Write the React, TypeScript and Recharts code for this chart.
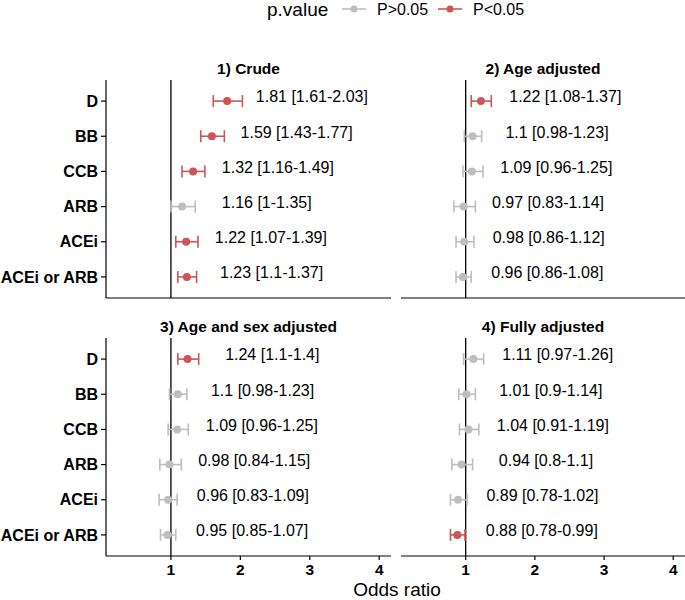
import React from 'react';
import { ScatterChart, Scatter, XAxis, YAxis, ErrorBar, ReferenceLine } from 'recharts';

// categories, top to bottom
const drugs = ['D', 'BB', 'CCB', 'ARB', 'ACEi', 'ACEi or ARB'];
const panelTitles = ['1) Crude', '2) Age adjusted', '3) Age and sex adjusted', '4) Fully adjusted'];
const xTicks = [1, 2, 3, 4];

const crudeOR = [1.81, 1.59, 1.32, 1.16, 1.22, 1.23];
const crudeLow = [1.61, 1.43, 1.16, 1, 1.07, 1.1];
const crudeHigh = [2.03, 1.77, 1.49, 1.35, 1.39, 1.37];

const ageOR = [1.22, 1.1, 1.09, 0.97, 0.98, 0.96];
const ageLow = [1.08, 0.98, 0.96, 0.83, 0.86, 0.86];
const ageHigh = [1.37, 1.23, 1.25, 1.14, 1.12, 1.08];

const ageSexOR = [1.24, 1.1, 1.09, 0.98, 0.96, 0.95];
const ageSexLow = [1.1, 0.98, 0.96, 0.84, 0.83, 0.85];
const ageSexHigh = [1.4, 1.23, 1.25, 1.15, 1.09, 1.07];

const fullOR = [1.11, 1.01, 1.04, 0.94, 0.89, 0.88];
const fullLow = [0.97, 0.9, 0.91, 0.8, 0.78, 0.78];
const fullHigh = [1.26, 1.14, 1.19, 1.1, 1.02, 0.99];

const RED = '#CD5555';
const GREY = '#BEBEBE';
const FONT = '"Liberation Sans", Arial, Helvetica, sans-serif';
const X_DOMAIN: [number, number] = [0.065, 4.17];
const LABEL_SHIFT = 1.22; // text sits to the right of the estimate
const LABEL_LIFT = 0.12;

const PLOT_H = 217;

interface PanelProps {
  title: string;
  or: number[];
  low: number[];
  high: number[];
  left: number;
  top: number;
  showY: boolean;
  showX: boolean;
}

function Panel({ title, or, low, high, left, top, showY, showX }: PanelProps) {
  const rows = drugs.map((d, i) => ({
    drug: d,
    x: or[i],
    y: i + 1,
    err: [or[i] - low[i], high[i] - or[i]],
    sig: low[i] > 1 || high[i] < 1,
    text: `${or[i]} [${low[i]}-${high[i]}]`,
  }));
  const greyRows = rows.filter((r) => !r.sig);
  const redRows = rows.filter((r) => r.sig);
  const labelRows = rows.map((r) => ({ x: r.x + LABEL_SHIFT, y: r.y - LABEL_LIFT, text: r.text }));

  const yAxisW = showY ? 106 : 0;
  const width = showY ? 392 : 284;
  const xAxisH = showX ? 32 : 1;
  const height = PLOT_H + 1 + xAxisH;
  const plotCenter = yAxisW + (width - yAxisW - (showY ? 1 : 0)) / 2;

  const dot = (color: string) => (p: any) => <circle cx={p.cx} cy={p.cy} r={4} fill={color} />;

  return (
    <div style={{ position: 'absolute', left, top: top - 24 }}>
      <div
        style={{
          position: 'absolute',
          left: plotCenter - 150,
          width: 300,
          top: 4,
          textAlign: 'center',
          fontWeight: 'bold',
          fontSize: 15.5,
          lineHeight: '18px',
          color: '#000',
        }}
      >
        {title}
      </div>
      <div style={{ position: 'absolute', left: 0, top: 24 }}>
        <ScatterChart width={width} height={height} margin={{ top: 0, right: showY ? 1 : 0, bottom: 0, left: 0 }}>
          <XAxis
            type="number"
            dataKey="x"
            domain={X_DOMAIN}
            ticks={xTicks}
            allowDataOverflow
            height={xAxisH}
            axisLine={{ stroke: '#000', strokeWidth: 1.2 }}
            tick={showX ? { fill: '#000', fontSize: 15.5, fontWeight: 'bold' } : false}
            tickLine={showX ? { stroke: '#000', strokeWidth: 1.2 } : false}
            tickSize={4}
            tickMargin={4}
          />
          <YAxis
            type="number"
            dataKey="y"
            domain={[0.4, 6.6]}
            ticks={[1, 2, 3, 4, 5, 6]}
            reversed
            allowDataOverflow
            hide={!showY}
            width={yAxisW}
            tickFormatter={(v: number) => drugs[v - 1]}
            axisLine={{ stroke: '#000', strokeWidth: 1.2 }}
            tick={{ fill: '#000', fontSize: 16, fontWeight: 'bold' }}
            tickLine={{ stroke: '#000', strokeWidth: 1.2 }}
            tickSize={5}
            tickMargin={3}
            interval={0}
          />
          <ReferenceLine x={1} stroke="#000" strokeWidth={1.3} />
          <Scatter data={greyRows} isAnimationActive={false} shape={dot(GREY)}>
            <ErrorBar dataKey="err" direction="x" width={6} stroke={GREY} strokeWidth={1.6} />
          </Scatter>
          <Scatter data={redRows} isAnimationActive={false} shape={dot(RED)}>
            <ErrorBar dataKey="err" direction="x" width={6} stroke={RED} strokeWidth={1.6} />
          </Scatter>
          <Scatter
            data={labelRows}
            isAnimationActive={false}
            shape={(p: any) => (
              <text
                x={p.cx}
                y={p.cy}
                textAnchor="middle"
                dominantBaseline="central"
                fontSize={16}
                fill="#000"
              >
                {p.payload.text}
              </text>
            )}
          />
        </ScatterChart>
      </div>
    </div>
  );
}

function LegendMarker({ color, left }: { color: string; left: number }) {
  return (
    <svg style={{ position: 'absolute', left, top: 1 }} width={24} height={16}>
      <line x1={0} x2={24} y1={8} y2={8} stroke={color} strokeWidth={1.6} />
      <circle cx={12} cy={8} r={3.5} fill={color} />
    </svg>
  );
}

export default function App() {
  return (
    <div
      style={{
        position: 'absolute',
        left: 0,
        top: 0,
        width: 685,
        height: 600,
        background: '#fff',
        fontFamily: FONT,
        overflow: 'hidden',
      }}
    >
      {/* legend */}
      <div style={{ position: 'absolute', left: 267, top: 0, fontSize: 19, lineHeight: '20px', color: '#000' }}>
        p.value
      </div>
      <LegendMarker color={GREY} left={342} />
      <div style={{ position: 'absolute', left: 377, top: 1, fontSize: 16, lineHeight: '17px', color: '#000' }}>
        P&gt;0.05
      </div>
      <LegendMarker color={RED} left={438} />
      <div style={{ position: 'absolute', left: 473, top: 1, fontSize: 16, lineHeight: '17px', color: '#000' }}>
        P&lt;0.05
      </div>

      <Panel title={panelTitles[0]} or={crudeOR} low={crudeLow} high={crudeHigh} left={0} top={80} showY showX={false} />
      <Panel title={panelTitles[1]} or={ageOR} low={ageLow} high={ageHigh} left={401} top={80} showY={false} showX={false} />
      <Panel title={panelTitles[2]} or={ageSexOR} low={ageSexLow} high={ageSexHigh} left={0} top={338} showY showX />
      <Panel title={panelTitles[3]} or={fullOR} low={fullLow} high={fullHigh} left={401} top={338} showY={false} showX />

      <div
        style={{
          position: 'absolute',
          left: 297,
          width: 200,
          top: 579,
          textAlign: 'center',
          fontSize: 19,
          lineHeight: '21px',
          color: '#000',
        }}
      >
        Odds ratio
      </div>
    </div>
  );
}
